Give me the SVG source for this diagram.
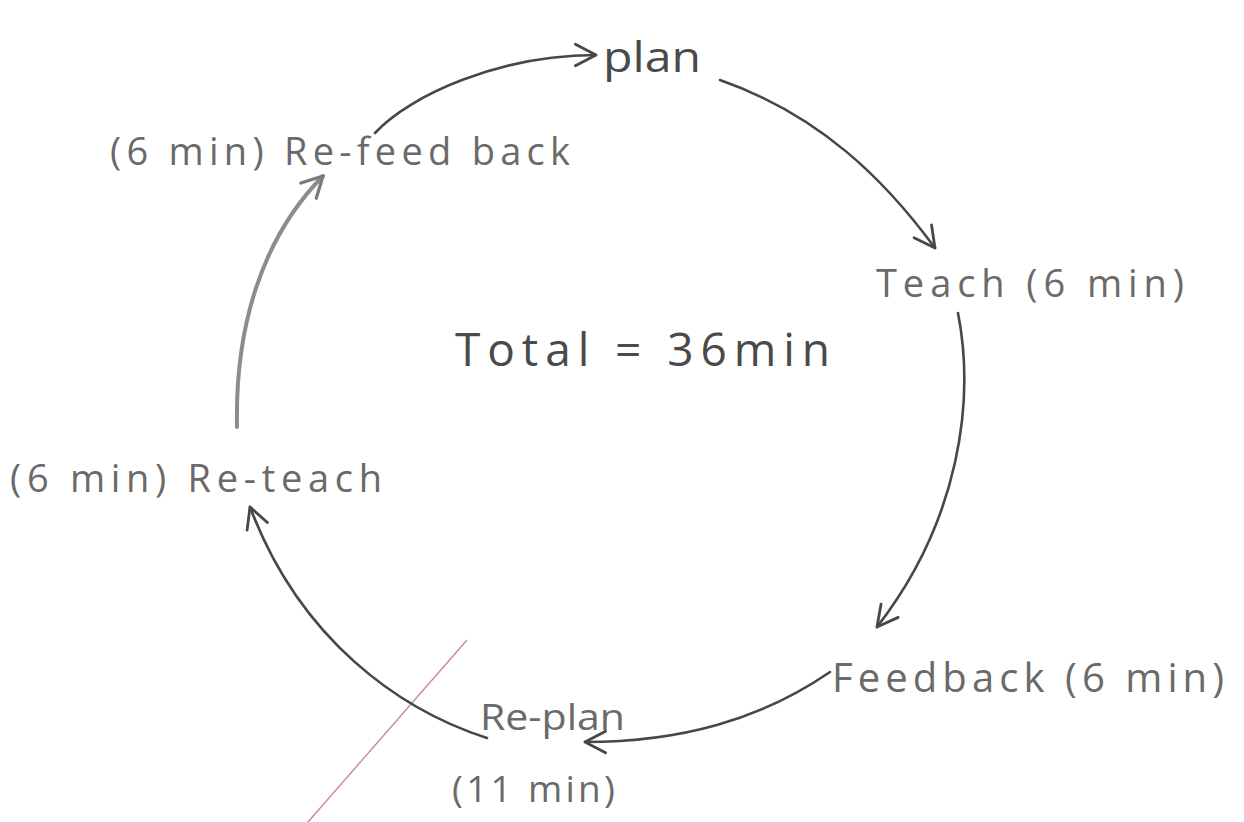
<svg xmlns="http://www.w3.org/2000/svg" width="1244" height="822" viewBox="0 0 1244 822">
  <style>
    .lbl { font-family: "Open Sans", "Liberation Sans", sans-serif; fill: #6a6a6a; }
    .dark { fill: #4a4a4a; }
    .edge { fill: none; stroke: #474747; stroke-width: 2.6; stroke-linecap: round; }
    .light { stroke: #8c8c8c; stroke-width: 4; }
  </style>
  <defs>
    <marker id="arr" viewBox="0 0 24 24" refX="22" refY="12" markerWidth="26" markerHeight="26" markerUnits="userSpaceOnUse" orient="auto">
      <path d="M3,2 L22,12 L3,22" fill="none" stroke="#474747" stroke-width="2.6" stroke-linecap="round" stroke-linejoin="round"/>
    </marker>
    <marker id="arrLight" viewBox="0 0 24 24" refX="22" refY="12" markerWidth="26" markerHeight="26" markerUnits="userSpaceOnUse" orient="auto">
      <path d="M3,2 L22,12 L3,22" fill="none" stroke="#7a7a7a" stroke-width="3" stroke-linecap="round" stroke-linejoin="round"/>
    </marker>
  </defs>
  <rect width="1244" height="822" fill="#ffffff"/>

  <line x1="467" y1="640" x2="308" y2="822" stroke="#c98a94" stroke-width="1.4"/>

  <g id="connectors">
    <path class="edge" d="M375,133 C410,95 500,55 596,55" marker-end="url(#arr)"/>
    <path class="edge" d="M720,80 C820,115 885,180 935,248" marker-end="url(#arr)"/>
    <path class="edge" d="M958,313 C975,400 960,520 877,627" marker-end="url(#arr)"/>
    <path class="edge" d="M830,672 C760,720 680,742 585,742" marker-end="url(#arr)"/>
    <path class="edge" d="M487,738 C400,710 300,640 250,507" marker-end="url(#arr)"/>
    <path class="edge light" d="M237,427 C235,330 260,240 323,176" marker-end="url(#arrLight)"/>
  </g>

  <g id="plan">
    <text class="lbl dark" x="603" y="72" font-size="42" textLength="98" lengthAdjust="spacingAndGlyphs">plan</text>
  </g>
  <g id="teach">
    <text class="lbl" x="876" y="297" font-size="38" textLength="308" lengthAdjust="spacing">Teach (6 min)</text>
  </g>
  <g id="feedback">
    <text class="lbl" x="832" y="692" font-size="40" textLength="392" lengthAdjust="spacing">Feedback (6 min)</text>
  </g>
  <g id="re-plan">
    <text class="lbl" x="480" y="730" font-size="37" textLength="145" lengthAdjust="spacingAndGlyphs">Re-plan</text>
    <text class="lbl" x="452" y="802" font-size="37" textLength="163" lengthAdjust="spacing">(11 min)</text>
  </g>
  <g id="re-teach">
    <text class="lbl" x="10" y="492" font-size="38" textLength="372" lengthAdjust="spacing">(6 min) Re-teach</text>
  </g>
  <g id="re-feedback">
    <text class="lbl" x="110" y="165" font-size="38" textLength="460" lengthAdjust="spacing">(6 min) Re-feed back</text>
  </g>
  <g id="total">
    <text class="lbl dark" x="455" y="366" font-size="46" textLength="375" lengthAdjust="spacing">Total = 36min</text>
  </g>
</svg>
